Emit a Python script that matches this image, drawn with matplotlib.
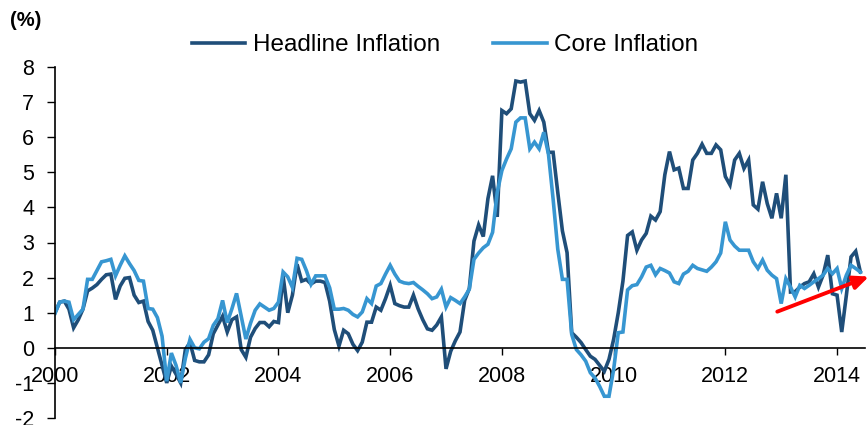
import matplotlib
matplotlib.use("Agg")
import matplotlib.pyplot as plt
import numpy as np

plt.rcParams['font.family'] = ['Liberation Sans', 'DejaVu Sans']

start_year = 2000
headline = [
    1.0, 1.3, 1.33, 1.1, 0.57, 0.8, 1.1, 1.62, 1.7, 1.8, 1.95, 2.08,
    2.1, 1.38, 1.76, 1.98, 2.0, 1.5, 1.29, 1.33, 0.75, 0.5, 0.0, -0.5,
    -1.0, -0.52, -0.75, -1.0, -0.05, 0.15, -0.36, -0.4, -0.4, -0.2, 0.4, 0.65,
    0.9, 0.45, 0.8, 0.88, -0.05, -0.27, 0.3, 0.55, 0.72, 0.72, 0.6, 0.75,
    0.72, 2.05, 1.0, 1.5, 2.38, 1.9, 1.95, 1.82, 1.9, 1.9, 1.86, 1.33,
    0.52, 0.05, 0.5, 0.4, 0.1, -0.08, 0.16, 0.73, 0.73, 1.16, 1.07, 1.4,
    1.78, 1.26, 1.2, 1.16, 1.16, 1.5, 1.11, 0.8, 0.54, 0.5, 0.65, 0.88,
    -0.6, -0.1, 0.2, 0.45, 1.35, 1.69, 3.04, 3.5, 3.17, 4.25, 4.9, 3.73,
    6.76, 6.67, 6.81, 7.6, 7.57, 7.6, 6.67, 6.48, 6.76, 6.43, 5.57, 5.57,
    4.43, 3.33, 2.71, 0.43, 0.3, 0.15, -0.05, -0.24, -0.33, -0.5, -0.67, -0.33,
    0.24, 1.0, 1.9, 3.2, 3.3, 2.78, 3.07, 3.26, 3.75, 3.64, 3.88, 4.93,
    5.59, 5.07, 5.12, 4.54, 4.54, 5.35, 5.54, 5.8, 5.54, 5.54, 5.78, 5.64,
    4.88, 4.64, 5.35, 5.54, 5.11, 5.35, 4.07, 3.95, 4.73, 4.11, 3.69, 4.4,
    3.69, 4.93, 1.59, 1.6, 1.73, 1.83, 1.88, 2.11, 1.73, 2.07, 2.64, 1.54,
    1.5, 0.45, 1.5, 2.59, 2.75, 2.16,
]
core = [
    0.98, 1.3, 1.33, 1.3, 0.8, 0.95, 1.1, 1.95, 1.95, 2.2, 2.45, 2.48,
    2.52, 2.05, 2.35, 2.62, 2.4, 2.2, 1.92, 1.9, 1.12, 1.1, 0.86, 0.33,
    -0.95, -0.15, -0.5, -1.0, -0.3, 0.24, 0.0, -0.03, 0.16, 0.26, 0.64, 0.83,
    1.35, 0.72, 1.11, 1.55, 0.9, 0.25, 0.7, 1.07, 1.25, 1.16, 1.07, 1.12,
    1.3, 2.16, 2.02, 1.72, 2.55, 2.52, 2.2, 1.81, 2.05, 2.05, 2.05, 1.71,
    1.1, 1.1, 1.12, 1.07, 0.95, 0.88, 1.02, 1.4, 1.26, 1.76, 1.83, 2.1,
    2.35, 2.1, 1.9, 1.85, 1.83, 1.86, 1.75, 1.65, 1.54, 1.4, 1.45, 1.67,
    1.16, 1.43, 1.35, 1.26, 1.45, 1.67, 2.52, 2.7, 2.85, 2.95, 3.29, 4.43,
    5.05, 5.38, 5.67, 6.43, 6.55, 6.55, 5.67, 5.86, 5.67, 6.14, 5.52, 4.24,
    2.81, 1.95, 1.95, 0.38, -0.05, -0.2, -0.38, -0.71, -0.86, -1.1, -1.38, -1.38,
    -0.62, 0.43, 0.45, 1.65, 1.77, 1.8, 2.02, 2.3, 2.35, 2.08, 2.26, 2.2,
    2.13, 1.88, 1.83, 2.1, 2.18, 2.35, 2.26, 2.22, 2.18, 2.3, 2.45, 2.7,
    3.59, 3.07, 2.9, 2.78, 2.78, 2.78, 2.45, 2.26, 2.5, 2.21, 2.07, 1.97,
    1.26, 1.97, 1.73, 1.45, 1.78, 1.69, 1.78, 1.88, 1.97, 2.07, 2.26, 2.11,
    2.26, 1.69, 2.07, 2.35, 2.26, 2.16,
]
year_ticks = [2000, 2002, 2004, 2006, 2008, 2010, 2012, 2014]
y_ticks = [-2, -1, 0, 1, 2, 3, 4, 5, 6, 7, 8]
arrow_start = (2012.93, 1.03)
arrow_end = (2014.57, 2.03)

dates = start_year + np.arange(len(headline)) / 12.0

fig = plt.figure(figsize=(8.68, 4.25), dpi=100)
ax = fig.add_axes([55/868, 7/425, 810/868, 351/425])

dark = '#1F4E79'
light = '#3796D1'
ax.plot(dates, headline, color=dark, lw=2.6, label='Headline Inflation', solid_joinstyle='miter')
ax.plot(dates, core, color=light, lw=2.6, label='Core Inflation', solid_joinstyle='miter')

ax.set_xlim(2000, 2014.5)
ax.set_ylim(-2, 8)
ax.set_xticks(year_ticks)
ax.set_xticklabels([str(y) for y in year_ticks])
ax.set_yticks(y_ticks)
ax.set_yticklabels([str(v) for v in y_ticks])

for s in ['top', 'right']:
    ax.spines[s].set_visible(False)
ax.spines['bottom'].set_position(('data', 0))
ax.spines['bottom'].set_linewidth(1.2)
ax.spines['left'].set_linewidth(1.2)
ax.tick_params(axis='y', direction='out', length=6, width=1, labelsize=15.5, pad=9)
ax.tick_params(axis='x', direction='out', length=5, width=1, labelsize=15.5, pad=8)

ax.annotate('', xy=arrow_end, xytext=arrow_start,
            arrowprops=dict(arrowstyle='-|>,head_length=0.9,head_width=0.4', color='#FF0000', lw=2.8,
                            shrinkA=0, shrinkB=0),
            annotation_clip=False)

fig.text(10/868, 1 - 20/425, '(%)', fontsize=14.5, fontweight='bold', va='center', ha='left')

fig.legend(loc='center', bbox_to_anchor=(445/868, 1 - 45/425), ncol=2, frameon=False,
           fontsize=17.5, handlelength=2.2, handletextpad=0.3, columnspacing=2.2)

fig.savefig('out.png', dpi=100)
